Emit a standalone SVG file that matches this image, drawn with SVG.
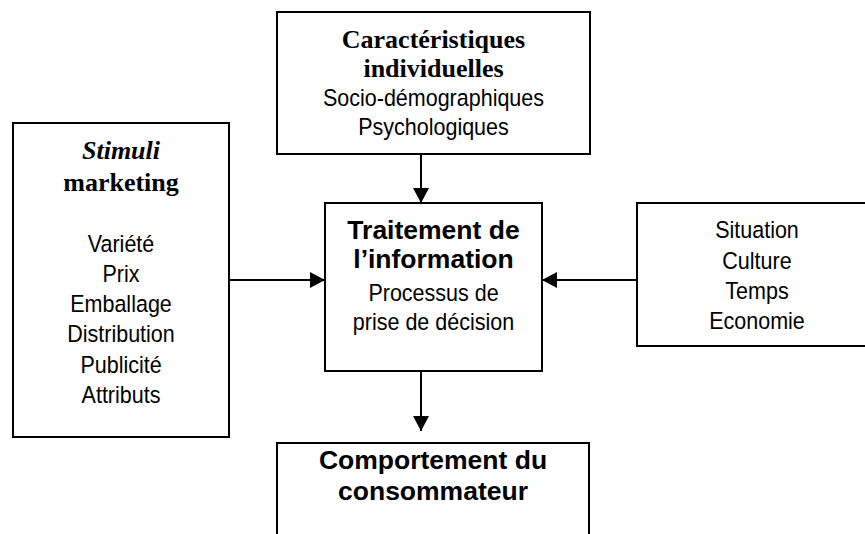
<svg xmlns="http://www.w3.org/2000/svg" width="865" height="534" viewBox="0 0 865 534">
  <style>
    .box { fill: #ffffff; stroke: #000000; stroke-width: 2; }
    .conn { stroke: #000000; stroke-width: 2; fill: none; }
    .serifb { font-family: "Liberation Serif", "Times New Roman", serif; font-weight: bold; font-size: 26px; fill: #000; text-anchor: middle; }
    .sansb { font-family: "Liberation Sans", Arial, sans-serif; font-weight: bold; font-size: 26.5px; fill: #000; text-anchor: middle; }
    .sans { font-family: "Liberation Sans", Arial, sans-serif; font-size: 23.5px; fill: #000; text-anchor: middle; }
  </style>
  <defs>
    <marker id="arrow" viewBox="0 0 15 16" refX="15" refY="8" markerWidth="15" markerHeight="16" markerUnits="userSpaceOnUse" orient="auto">
      <path d="M0,0 L15,8 L0,16 z" fill="#000000"/>
    </marker>
  </defs>
  <rect width="865" height="534" fill="#ffffff"/>

  <g id="connectors">
    <line class="conn" x1="421" y1="154" x2="421" y2="203" marker-end="url(#arrow)"/>
    <line class="conn" x1="229" y1="280" x2="325" y2="280" marker-end="url(#arrow)"/>
    <line class="conn" x1="637" y1="280" x2="542" y2="280" marker-end="url(#arrow)"/>
    <line class="conn" x1="421" y1="371" x2="421" y2="431" marker-end="url(#arrow)"/>
  </g>

  <g id="stimuli">
    <rect class="box" x="13" y="123" width="216" height="314"/>
    <text class="serifb" x="121" y="159" font-style="italic">Stimuli</text>
    <text class="serifb" x="121" y="191">marketing</text>
    <g transform="translate(121,0) scale(0.915,1)">
      <text class="sans" x="0" y="252">Variété</text>
      <text class="sans" x="0" y="282">Prix</text>
      <text class="sans" x="0" y="312">Emballage</text>
      <text class="sans" x="0" y="342">Distribution</text>
      <text class="sans" x="0" y="373">Publicité</text>
      <text class="sans" x="0" y="403">Attributs</text>
    </g>
  </g>

  <g id="caracteristiques">
    <rect class="box" x="277" y="12" width="313" height="142"/>
    <text class="serifb" x="433.5" y="48">Caractéristiques</text>
    <text class="serifb" x="433.5" y="77">individuelles</text>
    <g transform="translate(433.5,0) scale(0.915,1)">
      <text class="sans" x="0" y="106">Socio-démographiques</text>
      <text class="sans" x="0" y="135">Psychologiques</text>
    </g>
  </g>

  <g id="traitement">
    <rect class="box" x="325" y="203" width="217" height="168"/>
    <text class="sansb" x="433.5" y="239">Traitement de</text>
    <text class="sansb" x="433.5" y="268">l’information</text>
    <g transform="translate(433.5,0) scale(0.915,1)">
      <text class="sans" x="0" y="301">Processus de</text>
      <text class="sans" x="0" y="330">prise de décision</text>
    </g>
  </g>

  <g id="situation">
    <rect class="box" x="637" y="203" width="240" height="143"/>
    <g transform="translate(757,0) scale(0.915,1)">
      <text class="sans" x="0" y="238">Situation</text>
      <text class="sans" x="0" y="269">Culture</text>
      <text class="sans" x="0" y="299">Temps</text>
      <text class="sans" x="0" y="329">Economie</text>
    </g>
  </g>

  <g id="comportement">
    <rect class="box" x="277" y="443" width="312" height="120"/>
    <text class="sansb" x="433" y="469">Comportement du</text>
    <text class="sansb" x="433" y="500">consommateur</text>
  </g>
</svg>
